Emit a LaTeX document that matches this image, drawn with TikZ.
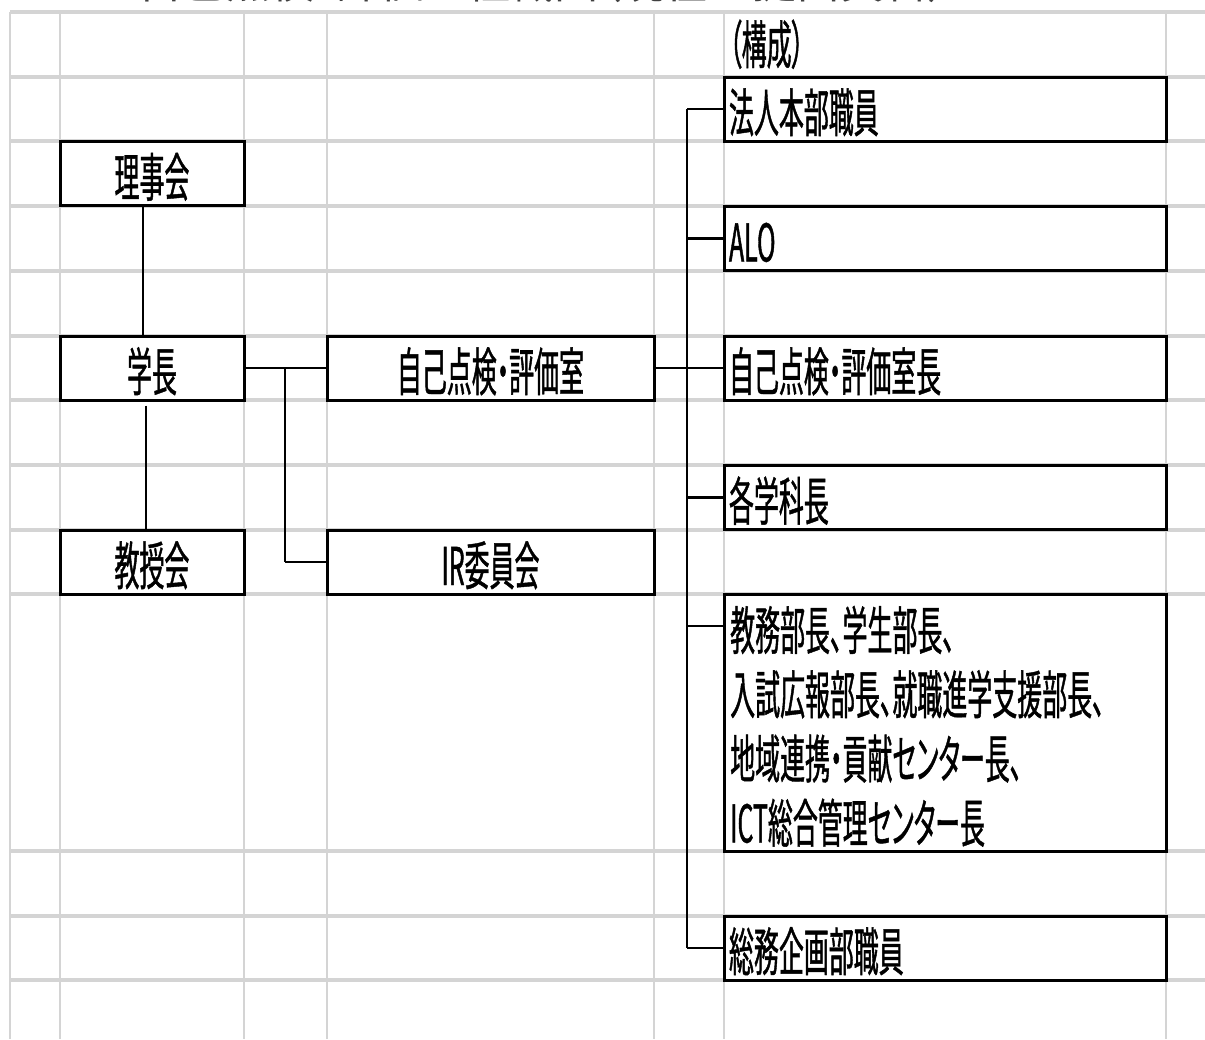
\documentclass[tikz,border=0pt]{standalone}
\usepackage{fontspec}
\newfontfamily\jp[FakeStretch=0.48,FakeBold=0.8,RawFeature=+palt]{Noto Sans CJK JP}
\newfontfamily\jpt[RawFeature=+palt]{Noto Sans CJK JP}
\newcommand\jpbox{\jp\fontsize{52pt}{64.25pt}\selectfont}
\newcommand\jptitlefont{\jpt\fontsize{44pt}{52pt}\selectfont}
\definecolor{gridgray}{RGB}{212,212,212}
\begin{document}
\begin{tikzpicture}[x=1pt,y=-1pt,
  hgrid/.style={draw=gridgray,line width=3.5pt},
  vgrid/.style={draw=gridgray,line width=2pt},
  box/.style={draw,line width=3pt,fill=white,inner sep=0pt,minimum height=64pt,
    text height=55pt,text depth=9pt,font=\jpbox},
  lbox/.style={box,minimum width=442pt,text width=432pt,align=left},
  vline/.style={line width=1.3pt},
  hline/.style={line width=2.5pt}]
\useasboundingbox (0,0) rectangle (1205,1039);
\clip (0,0) rectangle (1205,1039);
% title (cut off at top)
\node[anchor=base west,font=\jptitlefont,inner sep=0pt,text=black!75] (title) at (138,-2) {自己点検・評価の組織図（現在は提出資料）};
% grid
\foreach \yy in {12,77,141,206,271,336,400,465,530,594,851,916,980}
  \draw[hgrid] (10,\yy) -- (1205,\yy);
\foreach \xx in {10,60,244,327,654,724,1166}
  \draw[vgrid] (\xx,12) -- (\xx,1039);
% boxes
\node[box,minimum width=184pt] (rijikai) at (152,173.5) {理事会};
\node[box,minimum width=184pt] (gakucho) at (152,368) {学長};
\node[box,minimum width=184pt] (kyoju) at (152,562) {教授会};
\node[box,minimum width=327pt] (shitsu) at (490.5,368) {自己点検・評価室};
\node[box,minimum width=327pt] (ir) at (490.5,562) {IR委員会};
\node[anchor=base west,font=\jpbox,inner sep=0pt] (kousei) at (729,64) {（構成）};
\node[lbox] (houjin) at (945,109) {法人本部職員};
\node[lbox] (alo) at (945,238.5) {ALO};
\node[lbox] (shitsucho) at (945,368) {自己点検・評価室長};
\node[lbox] (gakkacho) at (945,497.5) {各学科長};
\node[draw,line width=3pt,fill=white,minimum width=442pt,minimum height=257pt,inner sep=0pt] (big) at (945,722.5) {};
\node[anchor=base west,font=\jpbox,align=left,inner sep=0pt] (bigtext) at (730,842.5)
  {教務部長、学生部長、\\入試広報部長、就職進学支援部長、\\地域連携・貢献センター長、\\ICT総合管理センター長};
\node[lbox] (soumu) at (945,948) {総務企画部職員};
% connectors
\draw[vline] ([xshift=-9pt]rijikai.south) -- ([xshift=-9pt]gakucho.north);
\draw[vline] ([xshift=-6pt,yshift=-4pt]gakucho.south) -- ([xshift=-6pt]kyoju.north);
\draw[hline] (gakucho.east) -- (shitsu.west);
\coordinate (branch) at (285,368);
\draw[vline] (branch) -- (branch |- ir.west);
\draw[hline] (branch |- ir.west) -- (ir.west);
\coordinate (trunk) at (687,368);
\draw[hline] (shitsu.east) -- (trunk);
\draw[vline] (houjin.west -| trunk) -- (soumu.west -| trunk);
\foreach \n in {houjin,alo,shitsucho,gakkacho,soumu}
  \draw[hline] (\n.west -| trunk) -- (\n.west);
\coordinate (bigtick) at (724,626);
\draw[hline] (bigtick -| trunk) -- (bigtick);
\end{tikzpicture}
\end{document}
